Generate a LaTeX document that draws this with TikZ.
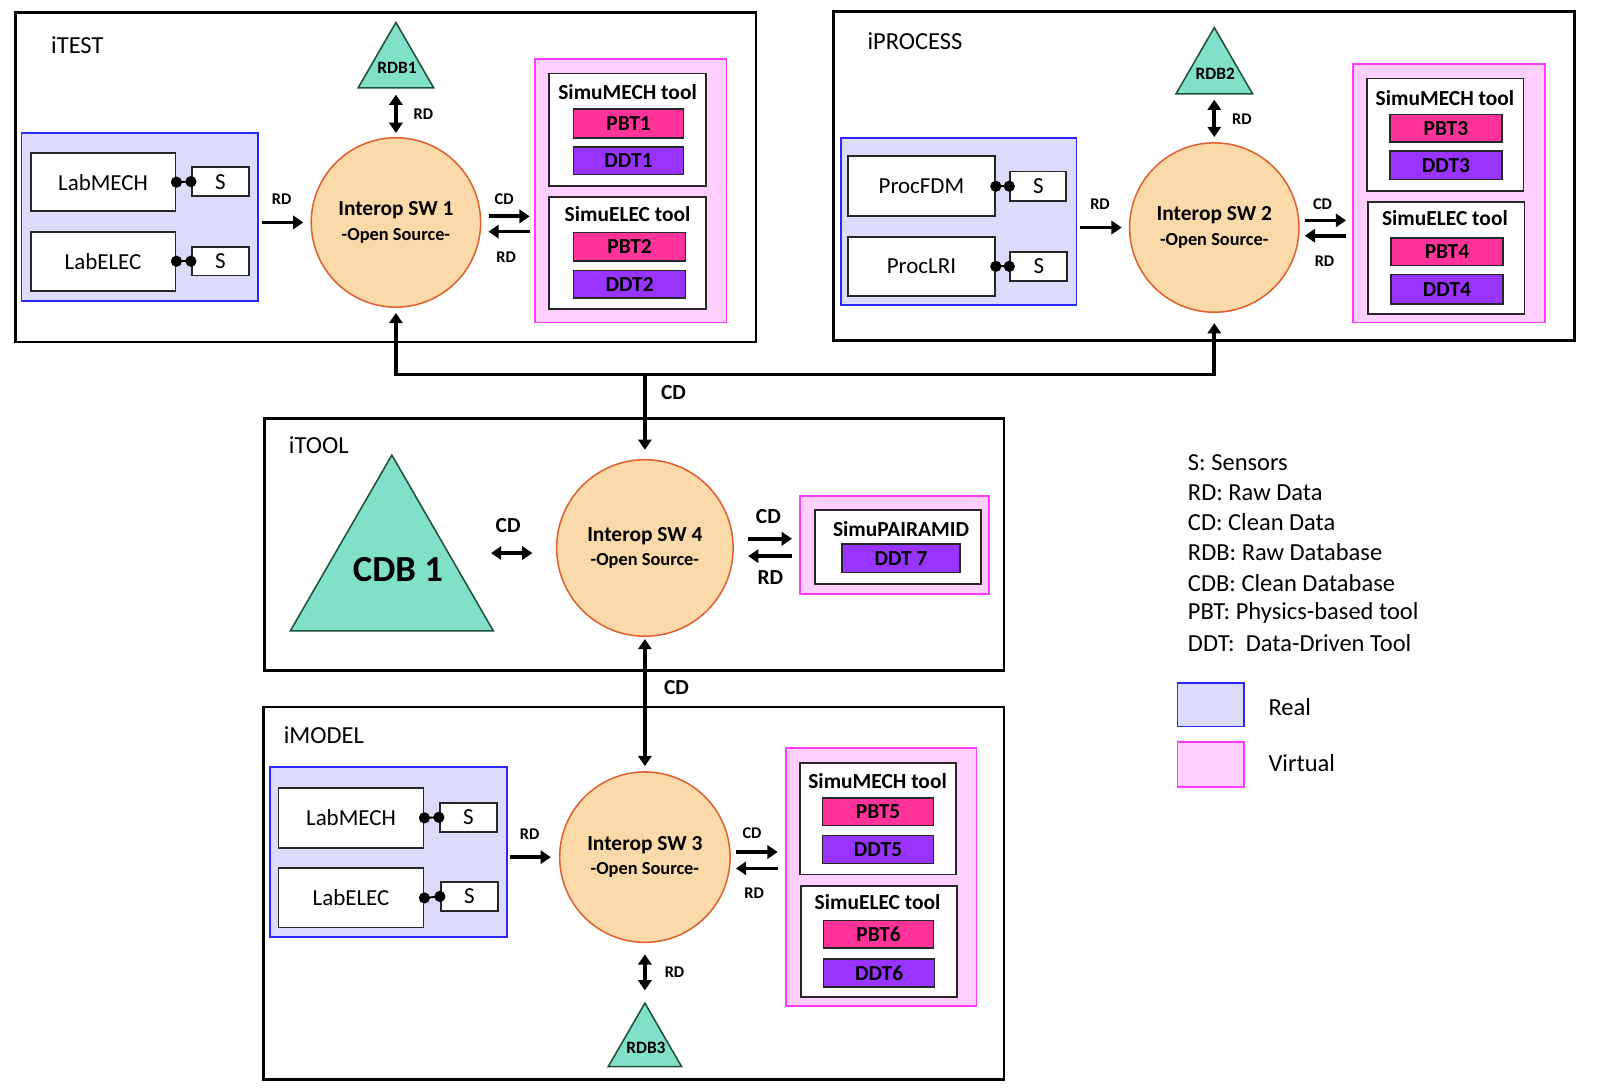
\documentclass[tikz,border=0pt]{standalone}
\usepackage{fontspec}
\setmainfont{Carlito}
\usepackage{tikz}
\usetikzlibrary{arrows.meta, shapes.geometric}

\definecolor{realfill}{RGB}{220,220,250}
\definecolor{realline}{RGB}{40,40,255}
\definecolor{virtfill}{RGB}{255,208,255}
\definecolor{virtline}{RGB}{255,60,255}
\definecolor{pbtfill}{RGB}{255,51,153}
\definecolor{ddtfill}{RGB}{153,51,255}
\definecolor{swfill}{RGB}{251,217,168}
\definecolor{swline}{RGB}{224,96,48}
\definecolor{dbfill}{RGB}{128,224,200}
\definecolor{dbline}{RGB}{30,80,60}
\newcommand{\fsz}[1]{\fontsize{#1}{#1}\selectfont}

\begin{document}
\begin{tikzpicture}[x=1pt, y=-1pt,
    dims/.style 2 args={minimum width=#1, minimum height=#2},
    panel/.style={draw=black, line width=2.6pt, fill=white, inner sep=0},
    realgrp/.style={draw=realline, line width=1.8pt, fill=realfill, inner sep=0},
    virtgrp/.style={draw=virtline, line width=1.8pt, fill=virtfill, inner sep=0},
    toolbox/.style={draw=black!85, line width=1.8pt, fill=white, inner sep=0},
    labbox/.style={draw=black!85, line width=1.8pt, fill=white, inner sep=0, font=\fsz{22.5}},
    pbt/.style={draw=black!85, line width=1.5pt, fill=pbtfill, inner sep=0, font=\bfseries\fsz{21}},
    ddt/.style={pbt, fill=ddtfill},
    sw/.style={circle, draw=swline, line width=1.5pt, fill=swfill, inner sep=0, align=center,
        font=\bfseries\fontsize{18}{24}\selectfont},
    rdb/.style={regular polygon, regular polygon sides=3, draw=dbline, line width=1.5pt, fill=dbfill, inner sep=0},
    dbtxt/.style={font=\bfseries\fsz{17}, inner sep=0},
    arr/.style={line width=3.6pt, -{Triangle[length=10pt, width=13pt]}},
    dbl/.style={line width=3.6pt, {Triangle[length=10pt, width=13pt]}-{Triangle[length=10pt, width=13pt]}},
    lbl/.style={font=\bfseries\fsz{16}, inner sep=0},
    biglbl/.style={font=\bfseries\fsz{21}, inner sep=0},
    tooltxt/.style={font=\bfseries\fsz{21}, inner sep=0},
    paneltxt/.style={font=\fsz{24}, anchor=west, inner sep=0},
    legtxt/.style={font=\fsz{24}, anchor=west, inner sep=0}]

    \useasboundingbox (0,0) rectangle (1568,1067);

    % iTEST
    \node[panel, dims={726}{323}] (itest) at (378,173.5) {};
    \node[paneltxt] (itestlbl) at (50,44) {iTEST};
    \node[realgrp, dims={232}{165}] (real1) at (137,212.5) {};
    \node[labbox, dims={142}{57}] (lm1) at (101,178.5) {LabMECH};
    \node[labbox, dims={142}{58}] (le1) at (101,256) {LabELEC};
    \node[labbox, dims={56}{28}] (s1a) at (216,178) {S};
    \node[labbox, dims={56}{28}] (s1b) at (216,256) {S};
    \node[virtgrp, dims={188}{258}] (virt1) at (618,187) {};
    \node[toolbox, dims={154}{110}] (mech1) at (615,127) {};
    \node[tooltxt] (mech1lbl) at (615,90) {SimuMECH tool};
    \node[pbt, dims={108}{28}] (pbt1) at (616,121) {PBT1};
    \node[ddt, dims={108}{27}] (ddt1) at (616,157.5) {DDT1};
    \node[toolbox, dims={154}{110}] (elec1) at (615,248) {};
    \node[tooltxt] (elec1lbl) at (615,210) {SimuELEC tool};
    \node[pbt, dims={110}{28}] (pbt2) at (617,242) {PBT2};
    \node[ddt, dims={110}{27}] (ddt2) at (617,278.5) {DDT2};
    \node[sw, minimum size=166] (sw1) at (388,218) {{\fsz{21}Interop SW 1}\\-Open Source-};
    \node[rdb, minimum size=85.4] (rdb1) at (388,64.7) {};
    \node[dbtxt] (rdb1lbl) at (389,67) {RDB1};

    % iPROCESS
    \node[panel, dims={726}{323}] (iproc) at (1180,172.5) {};
    \node[paneltxt] (iproclbl) at (850,40) {iPROCESS};
    \node[realgrp, dims={231}{164}] (real2) at (939.5,217) {};
    \node[labbox, dims={144}{59}] (pf) at (903,182.5) {ProcFDM};
    \node[labbox, dims={144}{58}] (pl) at (903,261) {ProcLRI};
    \node[labbox, dims={55}{29}] (s2a) at (1017.5,182.5) {S};
    \node[labbox, dims={56}{28}] (s2b) at (1018,261) {S};
    \node[virtgrp, dims={188}{253}] (virt2) at (1420,189.5) {};
    \node[toolbox, dims={153}{110}] (mech2) at (1416.5,132) {};
    \node[tooltxt] (mech2lbl) at (1416,96) {SimuMECH tool};
    \node[pbt, dims={110}{27}] (pbt3) at (1417,125.5) {PBT3};
    \node[ddt, dims={110}{28}] (ddt3) at (1417,162) {DDT3};
    \node[toolbox, dims={153}{110}] (elec2) at (1417.5,253) {};
    \node[tooltxt] (elec2lbl) at (1416,214) {SimuELEC tool};
    \node[pbt, dims={110}{27}] (pbt4) at (1418,246.5) {PBT4};
    \node[ddt, dims={110}{29}] (ddt4) at (1418,283.5) {DDT4};
    \node[sw, minimum size=166] (sw2) at (1190,223) {{\fsz{21}Interop SW 2}\\-Open Source-};
    \node[rdb, minimum size=86.6] (rdb2) at (1190,70.3) {};
    \node[dbtxt] (rdb2lbl) at (1191,72) {RDB2};

    % iTOOL
    \node[panel, dims={725}{247}] (itool) at (621.5,533.5) {};
    \node[paneltxt] (itoollbl) at (283,436) {iTOOL};
    \node[rdb, minimum size=229.8] (cdb1) at (384,560.9) {};
    \node[font=\bfseries\fsz{36}, inner sep=0] (cdb1lbl) at (390,558) {CDB 1};
    \node[sw, minimum size=173] (sw4) at (632,537) {{\fsz{21}Interop SW 4}\\-Open Source-};
    \node[virtgrp, dims={185}{96}] (virt4) at (876.5,534) {};
    \node[toolbox, dims={162}{72}] (pair) at (880,536) {};
    \node[tooltxt] (pairlbl) at (883,518) {SimuPAIRAMID};
    \node[ddt, dims={116}{28}] (ddt7) at (883,547) {DDT 7};

    % iMODEL
    \node[panel, dims={726}{365}] (imodel) at (621,875.5) {};
    \node[paneltxt] (imodellbl) at (278,720) {iMODEL};
    \node[realgrp, dims={232}{166}] (real3) at (381,835) {};
    \node[labbox, dims={142}{59}] (lm3) at (344,801.5) {LabMECH};
    \node[labbox, dims={142}{58}] (le3) at (344,880) {LabELEC};
    \node[labbox, dims={56}{28}] (s3a) at (459,801) {S};
    \node[labbox, dims={56}{29}] (s3b) at (460,878.5) {S};
    \node[virtgrp, dims={187}{253}] (virt3) at (863.5,859.5) {};
    \node[toolbox, dims={153}{109}] (mech3) at (860.5,802.5) {};
    \node[tooltxt] (mech3lbl) at (860,765) {SimuMECH tool};
    \node[pbt, dims={109}{27}] (pbt5) at (860.5,795.5) {PBT5};
    \node[ddt, dims={109}{27}] (ddt5) at (860.5,832.5) {DDT5};
    \node[toolbox, dims={153}{109}] (elec3) at (861.5,922.5) {};
    \node[tooltxt] (elec3lbl) at (860,884) {SimuELEC tool};
    \node[pbt, dims={108}{27}] (pbt6) at (861,915.5) {PBT6};
    \node[ddt, dims={109}{27}] (ddt6) at (861.5,953.5) {DDT6};
    \node[sw, minimum size=167] (sw3) at (632,840) {{\fsz{21}Interop SW 3}\\-Open Source-};
    \node[rdb, minimum size=83.1] (rdb3) at (632,1024.6) {};
    \node[dbtxt] (rdb3lbl) at (633,1027) {RDB3};

    % sensors
    \draw[line width=1.8pt] (lm1.east) -- (s1a.west);
    \draw[line width=1.8pt] (le1.east) -- (s1b.west);
    \draw[line width=1.8pt] (pf.east) -- (s2a.west);
    \draw[line width=1.8pt] (pl.east) -- (s2b.west);
    \draw[line width=1.8pt] (lm3.east) -- (s3a.west);
    \draw[line width=1.8pt] (le3.east) -- (s3b.west);
    \foreach \p in {lm1,le1,pf,pl,lm3,le3} \fill (\p.east) circle (5.5);
    \foreach \p in {s1a,s1b,s2a,s2b,s3a,s3b} \fill (\p.west) circle (5.5);

    % flows inside iTEST
    \draw[dbl, shorten <=6pt, shorten >=4pt] (rdb1.south) -- (sw1.north);
    \node[lbl] (rd1a) at (415,112) {RD};
    \draw[arr, shorten <=3pt, shorten >=7pt] (real1.east |- sw1.west) -- (sw1.west);
    \node[lbl] (rd1b) at (276,195) {RD};
    \draw[arr, shorten <=7pt, shorten >=4pt] ([yshift=6pt]sw1.east) -- ([yshift=6pt]virt1.west |- sw1.east);
    \draw[arr, shorten <=4pt, shorten >=7pt] ([yshift=-9pt]virt1.west |- sw1.east) -- ([yshift=-9pt]sw1.east);
    \node[lbl] (cd1) at (494,195) {CD};
    \node[lbl] (rd1c) at (496,252) {RD};

    % flows inside iPROCESS
    \draw[dbl, shorten <=5pt, shorten >=5pt] (rdb2.south) -- (sw2.north);
    \node[lbl] (rd2a) at (1217,117) {RD};
    \draw[arr, shorten <=2pt, shorten >=7pt] (real2.east |- sw2.west) -- (sw2.west);
    \node[lbl] (rd2b) at (1078,200) {RD};
    \draw[arr, shorten <=5pt, shorten >=6pt] ([yshift=7pt]sw2.east) -- ([yshift=7pt]virt2.west |- sw2.east);
    \draw[arr, shorten <=6pt, shorten >=5pt] ([yshift=-8pt]virt2.west |- sw2.east) -- ([yshift=-8pt]sw2.east);
    \node[lbl] (cd2) at (1296,200) {CD};
    \node[lbl] (rd2c) at (1298,256) {RD};

    % clean data bus
    \coordinate (cdbus) at (632,367);
    \draw[dbl, shorten <=5pt, shorten >=10pt] (sw1.south) |- (cdbus) -| (sw2.south);
    \draw[arr, shorten >=9pt] (cdbus) -- (sw4.north);
    \node[biglbl] (cdb) at (660,385) {CD};

    % flows inside iTOOL
    \draw[dbl, shorten <=30pt, shorten >=23pt] ([yshift=-5pt]cdb1.east |- sw4.west) -- ([yshift=-5pt]sw4.west);
    \node[biglbl] (cd4a) at (498,515) {CD};
    \draw[arr, shorten <=14pt, shorten >=7pt] ([yshift=9pt]sw4.east) -- ([yshift=9pt]virt4.west |- sw4.east);
    \draw[arr, shorten <=7pt, shorten >=14pt] ([yshift=-8pt]virt4.west |- sw4.east) -- ([yshift=-8pt]sw4.east);
    \node[biglbl] (cd4b) at (753,506) {CD};
    \node[biglbl] (rd4) at (755,566) {RD};
    \draw[dbl, shorten <=2pt, shorten >=5pt] (sw4.south) -- (sw3.north);
    \node[biglbl] (cd43) at (663,674) {CD};

    % flows inside iMODEL
    \draw[arr, shorten <=2pt, shorten >=8pt] (real3.east |- sw3.west) -- (sw3.west);
    \node[lbl] (rd3b) at (519,818) {RD};
    \draw[arr, shorten <=5pt, shorten >=7pt] ([yshift=5pt]sw3.east) -- ([yshift=5pt]virt3.west |- sw3.east);
    \draw[arr, shorten <=7pt, shorten >=5pt] ([yshift=-11pt]virt3.west |- sw3.east) -- ([yshift=-11pt]sw3.east);
    \node[lbl] (cd3) at (737,817) {CD};
    \node[lbl] (rd3c) at (739,875) {RD};
    \draw[dbl, shorten <=11pt, shorten >=11pt] (sw3.south) -- (rdb3.north);
    \node[lbl] (rd3a) at (661,953) {RD};

    % legend
    \foreach \t [count=\i] in {S: Sensors, RD: Raw Data, CD: Clean Data, RDB: Raw Database,
        CDB: Clean Database, PBT: Physics-based tool, DDT:\ \ Data-Driven Tool}
        \node[legtxt] (leg\i) at (1164,{423.5+29.5*\i}) {\t};
    \node[realgrp, dims={65}{43}] (legreal) at (1186.5,690.5) {};
    \node[legtxt] (legreallbl) at (1243,693) {Real};
    \node[virtgrp, dims={65}{44}] (legvirt) at (1186.5,749) {};
    \node[legtxt] (legvirtlbl) at (1243,748) {Virtual};
\end{tikzpicture}
\end{document}
